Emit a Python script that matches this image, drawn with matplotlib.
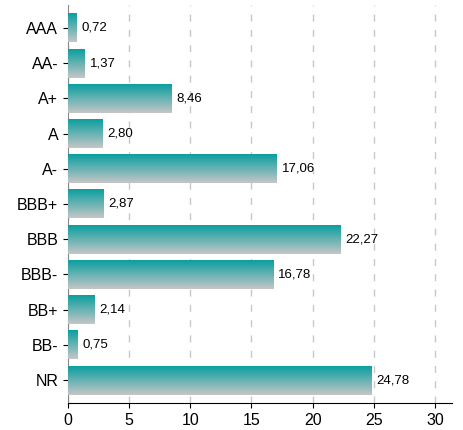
import numpy as np
import matplotlib.pyplot as plt
from matplotlib.colors import LinearSegmentedColormap

plt.rcParams['font.family'] = ['Liberation Sans', 'DejaVu Sans']

ratings = ['AAA', 'AA-', 'A+', 'A', 'A-', 'BBB+', 'BBB', 'BBB-', 'BB+', 'BB-', 'NR']
values = [0.72, 1.37, 8.46, 2.80, 17.06, 2.87, 22.27, 16.78, 2.14, 0.75, 24.78]

grad = LinearSegmentedColormap.from_list('g', ['#0a9fa0', '#c6c6c6'])

fig = plt.figure(figsize=(4.63, 4.30), dpi=100)
ax = fig.add_axes([68 / 463, 27 / 430, 384 / 463, 398 / 430])

pos = np.arange(len(ratings))
bars = ax.barh(pos, values, height=0.82, color='none', zorder=3)

g = np.linspace(0, 1, 100).reshape(-1, 1)
for b, v in zip(bars, values):
    x0, y0 = b.get_x(), b.get_y()
    w, h = b.get_width(), b.get_height()
    ax.imshow(g, cmap=grad, aspect='auto', extent=[x0, x0 + w, y0 + h, y0],
              origin='upper', zorder=3)
    ax.text(v + 0.4, y0 + h / 2, f'{v:.2f}'.replace('.', ','), va='center',
            ha='left', fontsize=9.5, zorder=4)

ax.set_xlim(0, 31.4)
ax.set_ylim(10.65, -0.65)
ax.set_yticks(pos)
ax.set_yticklabels(ratings, fontsize=11.5)
ax.set_xticks([0, 5, 10, 15, 20, 25, 30])
ax.tick_params(axis='x', labelsize=11.5)
ax.xaxis.grid(True, linestyle=(0, (5, 6)), color='#c8c8c8', linewidth=1, zorder=0)
ax.set_axisbelow(True)
for s in ['top', 'right']:
    ax.spines[s].set_visible(False)
ax.spines['left'].set_color('#888888')

fig.savefig('out.png', dpi=100)
